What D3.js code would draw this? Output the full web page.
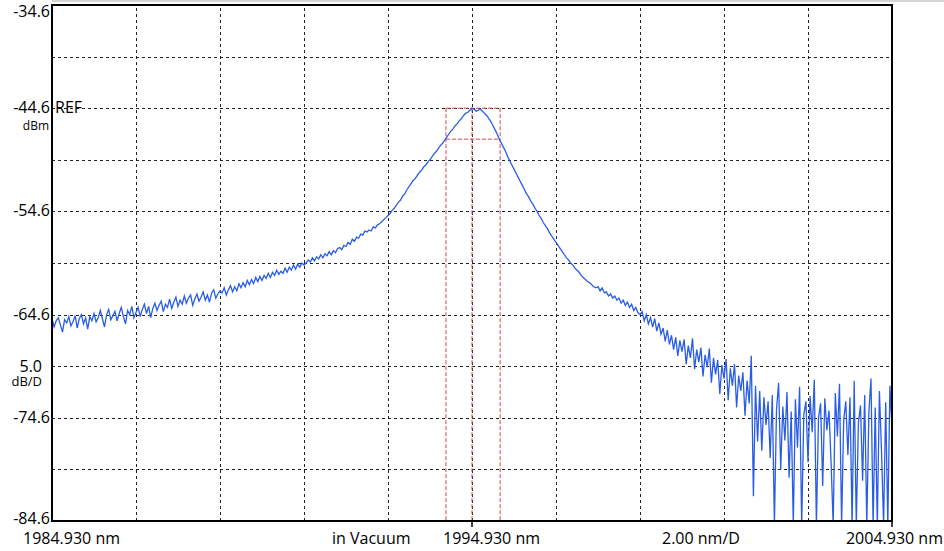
<!DOCTYPE html>
<html>
<head>
<meta charset="utf-8">
<script src="https://cdn.jsdelivr.net/npm/d3@7/dist/d3.min.js"></script>
<style>
  body { margin: 0; background: #fff; }
  svg { display: block; font-family: "Open Sans", sans-serif; }
  .grid line { stroke: #222; stroke-dasharray: 3,3; shape-rendering: crispEdges; }
  .grid path { display: none; }
</style>
</head>
<body>
<svg id="chart" width="944" height="551"></svg>
<script>
  // OSA trace, 0.05 nm sampling from start to stop
  var startNm = 1984.930, stopNm = 2004.930, stepNm = 0.05;
  var topDb = -34.6, bottomDb = -84.6, refDb = -44.6;

  var traceDb = [
    -65.0, -65.8, -65.2, -64.9, -65.6, -66.3, -65.1, -65.4, -64.8, -65.7,
    -65.3, -64.7, -65.9, -65.0, -64.6, -65.5, -64.9, -66.0, -64.8, -65.2,
    -64.5, -65.3, -64.9, -64.2, -65.0, -65.8, -64.6, -64.1, -65.1, -64.7,
    -64.3, -65.2, -64.5, -63.9, -64.8, -65.5, -64.2, -64.6, -63.8, -64.9,
    -64.4,
    -63.9, -64.8, -64.1, -63.6, -64.5, -63.8, -64.9, -64.0, -63.5,
    -64.2, -63.7, -63.3, -64.3, -63.6, -63.9, -63.1, -64.0, -63.4, -62.9,
    -63.8, -63.2, -63.6, -62.8, -63.5, -63.0, -62.7, -63.7, -63.1, -62.6,
    -63.3, -62.9, -62.4, -63.2, -62.7, -63.4, -62.5, -62.2, -63.0, -62.6,
    -62.3,
    -62.5, -62.0, -62.7, -62.2, -61.8, -62.4, -61.9, -62.3, -61.6,
    -62.0, -61.5, -61.9, -61.3, -61.7, -61.2, -61.6, -61.0, -61.4, -60.9,
    -61.3, -60.8, -61.1, -60.6, -61.0, -60.5, -60.8, -60.3, -60.7, -60.4,
    -60.6, -60.1, -60.5, -60.0, -60.3, -59.8, -60.2, -59.7, -60.0, -59.6,
    -59.8,
    -59.6, -59.3, -59.5, -59.1, -59.4, -59.0, -59.2, -58.8, -59.1,
    -58.7, -58.9, -58.5, -58.8, -58.4, -58.6, -58.2, -58.1, -58.3, -57.9,
    -58.0, -57.6, -57.8, -57.3, -57.5, -57.1, -57.2, -56.8, -56.9, -56.5,
    -56.6, -56.4, -56.5, -56.1, -56.2, -55.9, -55.8, -55.6, -55.4, -55.2,
    -55.0,
    -54.8, -54.5, -54.3, -54.0, -53.7, -53.5, -53.1, -52.9, -52.5, -52.2,
    -51.9, -51.6, -51.4, -51.1, -50.8, -50.6, -50.3, -50.1, -49.8, -49.6,
    -49.3, -49.0, -48.8, -48.5, -48.2, -48.0, -47.7, -47.4, -47.1, -46.8,
    -46.6, -46.3, -46.1, -45.8, -45.6, -45.3, -45.1, -45.0, -44.8, -44.6,
    -44.7, -44.9, -44.8, -44.7, -44.9, -45.1, -45.3, -45.6, -45.9, -46.3,
    -46.7, -47.1, -47.6, -48.0, -48.4, -48.8, -49.3, -49.7, -50.1, -50.5,
    -50.9, -51.3, -51.7, -52.1, -52.5, -52.9, -53.2, -53.6, -53.9, -54.3,
    -54.6, -55.0, -55.3, -55.7, -56.0, -56.3, -56.7, -57.0, -57.3, -57.6,
    -57.9, -58.2, -58.5, -58.8, -59.1, -59.3, -59.6, -59.8, -60.1, -60.3,
    -60.5, -60.8, -61.0, -61.2, -61.4, -61.5, -61.7, -61.9, -62.0, -61.9,
    -62.3, -62.0, -62.5, -62.4, -62.8, -62.6, -63.0, -62.8, -63.2, -63.0,
    -63.5, -63.2, -63.7, -63.4, -63.9, -63.6, -64.2, -63.9, -64.4, -64.6,
    -64.3, -65.2, -64.6, -65.5, -64.9, -65.8, -65.0, -66.2, -65.4, -66.5,
    -65.9, -67.2, -66.1, -67.5, -66.6, -68.0, -66.8, -68.6, -67.1, -68.2,
    -67.0, -69.4, -67.6, -68.8, -66.9, -69.9, -68.0, -69.2, -67.8, -70.6,
    -68.5, -69.7, -67.9, -71.2, -68.8, -70.4, -69.0, -72.3, -69.5,
    -70.8, -68.9, -72.9, -69.8, -71.5, -69.4, -73.6, -70.5, -72.0, -70.2,
    -74.4, -71.0, -73.2, -68.6, -82.2, -71.5, -76.9, -72.0, -77.8, -72.6,
    -75.3,
    -73.0, -78.5, -72.4, -85.0, -73.8, -71.2, -79.6, -73.5, -76.8, -72.1,
    -80.4, -74.0, -85.0, -72.8, -77.5, -71.6, -85.0, -74.3, -73.0, -78.9,
    -72.5, -76.0, -70.9, -85.0, -74.6, -73.2, -81.2, -72.7, -75.8, -73.9,
    -79.0, -85.0, -72.2, -76.4, -71.3, -85.0, -74.8, -73.0, -78.2, -72.6,
    -85.0, -71.0, -85.0, -75.1, -73.4, -80.7, -72.4, -85.0, -74.0, -70.8,
    -85.0, -73.6, -85.0, -72.0, -77.8, -85.0, -73.1, -85.0, -71.5, -75.6
  ];

  var gridNm = [1986.93, 1988.93, 1990.93, 1992.93, 1994.93, 1996.93, 1998.93, 2000.93, 2002.93];
  var gridDb = [-39.6, -44.6, -49.6, -54.6, -59.6, -64.6, -69.6, -74.6, -79.6];
  var yTickDb = [-34.6, -44.6, -54.6, -64.6, -74.6, -84.6];

  // -3 dB width markers
  var markNm = [1994.31, 1994.93, 1995.60];
  var markDb = [-44.6, -47.6];

  var bottomText = ["1984.930 nm", "in Vacuum", "1994.930 nm", "2.00 nm/D", "2004.930 nm"];
  var bottomX = [23, 332, 443, 662, 943];

  var plot = { left: 52, right: 892, top: 5, bottom: 521 };
  var svg = d3.select("#chart");

  var x = d3.scaleLinear().domain([startNm, stopNm]).range([plot.left, plot.right]);
  var y = d3.scaleLinear().domain([bottomDb, topDb]).range([plot.bottom, plot.top]);

  // grid
  svg.append("g")
    .attr("class", "grid")
    .attr("transform", "translate(0," + plot.bottom + ")")
    .call(d3.axisBottom(x).tickValues(gridNm).tickSize(-(plot.bottom - plot.top)).tickFormat(""));
  svg.append("g")
    .attr("class", "grid")
    .attr("transform", "translate(" + plot.left + ",0)")
    .call(d3.axisLeft(y).tickValues(gridDb).tickSize(-(plot.right - plot.left)).tickFormat(""));

  // markers
  var red = "#d9434d";
  markNm.forEach(function (d) {
    svg.append("line")
      .attr("x1", x(d)).attr("x2", x(d))
      .attr("y1", y(markDb[0])).attr("y2", plot.bottom)
      .attr("stroke", red).attr("stroke-dasharray", "4,2");
  });
  markDb.forEach(function (d) {
    svg.append("line")
      .attr("x1", x(markNm[0])).attr("x2", x(markNm[2]))
      .attr("y1", y(d)).attr("y2", y(d))
      .attr("stroke", red).attr("stroke-dasharray", "4,2");
  });

  // trace
  svg.append("clipPath").attr("id", "plotclip")
    .append("rect").attr("x", plot.left).attr("y", plot.top)
    .attr("width", plot.right - plot.left).attr("height", plot.bottom - plot.top);
  var line = d3.line()
    .x(function (d, i) { return x(startNm + i * stepNm); })
    .y(function (d) { return y(d); });
  svg.append("path")
    .datum(traceDb)
    .attr("clip-path", "url(#plotclip)")
    .attr("d", line)
    .attr("fill", "none")
    .attr("stroke", "#2a5de6")
    .attr("stroke-width", 1.3);

  // frame
  svg.append("line").attr("x1", plot.left).attr("x2", 944).attr("y1", 1).attr("y2", 1)
    .attr("stroke", "#aaa");
  svg.append("rect")
    .attr("x", plot.left).attr("y", plot.top)
    .attr("width", plot.right - plot.left).attr("height", plot.bottom - plot.top)
    .attr("fill", "none").attr("stroke", "#000").attr("stroke-width", 2);
  [x(1994.93), plot.right].forEach(function (d) {
    svg.append("line").attr("x1", d).attr("x2", d)
      .attr("y1", plot.bottom).attr("y2", plot.bottom + 6)
      .attr("stroke", "#000").attr("stroke-width", 1.5);
  });

  // y labels
  svg.selectAll(".ylab")
    .data(yTickDb)
    .enter()
    .append("text")
    .attr("class", "ylab")
    .attr("x", 50)
    .attr("y", function (d) { return Math.min(Math.max(y(d) + 5, 17), 524); })
    .attr("text-anchor", "end")
    .attr("font-size", 16)
    .text(function (d) { return d.toFixed(1); });
  svg.append("text").attr("x", 55).attr("y", y(refDb) + 5)
    .attr("font-size", 16).text("REF");
  svg.append("text").attr("x", 49).attr("y", y(refDb) + 22)
    .attr("text-anchor", "end").attr("font-size", 12).text("dBm");
  svg.append("text").attr("x", 42).attr("y", y(-69.6) + 6)
    .attr("text-anchor", "end").attr("font-size", 16).text("5.0");
  svg.append("text").attr("x", 42).attr("y", y(-69.6) + 20)
    .attr("text-anchor", "end").attr("font-size", 13).text("dB/D");

  // bottom labels
  svg.selectAll(".xlab")
    .data(bottomText)
    .enter()
    .append("text")
    .attr("class", "xlab")
    .attr("x", function (d, i) { return bottomX[i]; })
    .attr("y", 544)
    .attr("text-anchor", function (d, i) { return i == 4 ? "end" : "start"; })
    .attr("font-size", 16)
    .text(function (d) { return d; });
</script>
</body>
</html>
